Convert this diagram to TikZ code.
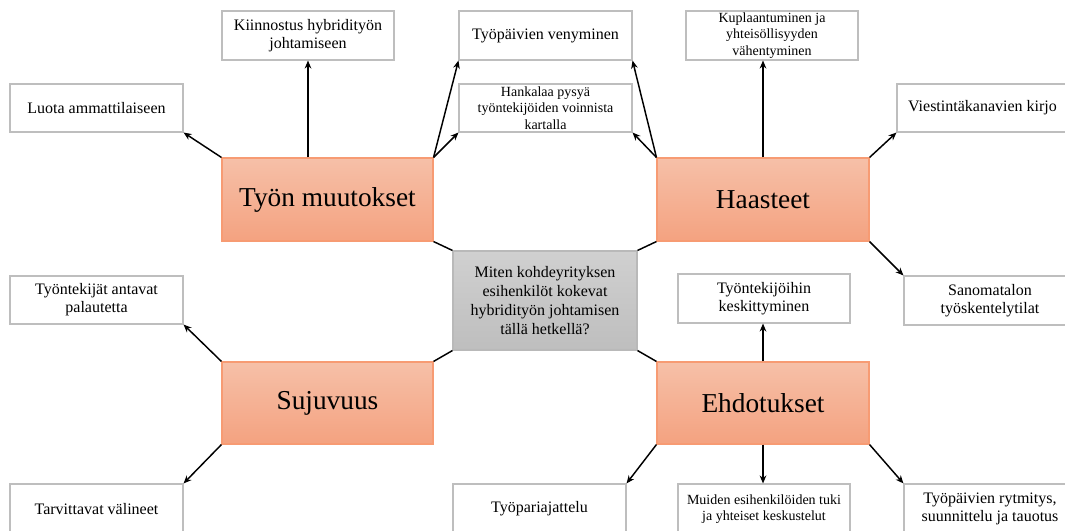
\documentclass[tikz,border=0pt]{standalone}
\usepackage{fontspec}
\setmainfont{Liberation Serif}
\usetikzlibrary{arrows.meta}
\definecolor{boxgray}{RGB}{190,190,190}
\definecolor{ortop}{RGB}{246,192,168}
\definecolor{orbot}{RGB}{244,162,128}
\definecolor{ordraw}{RGB}{247,155,115}
\definecolor{grtop}{RGB}{208,208,208}
\definecolor{grbot}{RGB}{190,190,190}
\definecolor{grdraw}{RGB}{185,185,185}
\begin{document}
\begin{tikzpicture}[x=0.75pt,y=-0.75pt,
  sz/.style 2 args={minimum width=#1*0.75pt, minimum height=#2*0.75pt},
  box/.style={draw=boxgray, line width=0.8pt, fill=white, inner sep=0pt, align=center,
    font=\fontsize{12}{13.5}\selectfont},
  smallbox/.style={box, font=\fontsize{10.5}{12.5}\selectfont},
  topic/.style={draw=ordraw, line width=0.8pt, top color=ortop, bottom color=orbot,
    inner sep=0pt, align=center, font=\fontsize{20.5}{24}\selectfont},
  centre/.style={draw=grdraw, line width=0.8pt, top color=grtop, bottom color=grbot,
    inner sep=0pt, align=center, font=\fontsize{12}{14.3}\selectfont},
  arr/.style={-{Stealth[length=6pt,width=5pt]}, line width=1.1pt},
  link/.style={line width=1.1pt}]
\useasboundingbox (0,0) rectangle (1065,531);
% topic boxes
\node[topic, sz={211}{83}] (tyon) at (327.5,199.5) {Työn muutokset};
\node[topic, sz={212}{83}] (haas) at (763,199.5) {Haasteet};
\node[topic, sz={211}{82}] (suju) at (327.5,403) {Sujuvuus};
\node[topic, sz={212}{82}] (ehd) at (763,403) {Ehdotukset};
\node[centre, sz={184}{99}] (ctr) at (545,300.5) {Miten kohdeyrityksen\\esihenkilöt kokevat\\hybridityön johtamisen\\tällä hetkellä?};
% leaf boxes
\node[box, sz={173}{48}] (luota) at (96.5,108) {Luota ammattilaiseen};
\node[box, sz={172}{49}] (kiin) at (308,35.5) {Kiinnostus hybridityön\\johtamiseen};
\node[box, sz={173}{49}] (venym) at (545.5,35.5) {Työpäivien venyminen};
\node[smallbox, sz={173}{48}] (hank) at (545.5,108) {Hankalaa pysyä\\työntekijöiden voinnista\\kartalla};
\node[smallbox, sz={172}{49}] (kupla) at (772,35.5) {Kuplaantuminen ja\\yhteisöllisyyden\\vähentyminen};
\node[box, sz={171}{48}] (viest) at (982.5,108) {Viestintäkanavien kirjo};
\node[box, sz={173}{48}] (palaute) at (96.5,300) {Työntekijät antavat\\palautetta};
\node[box, sz={172}{49}] (keskit) at (764,298.5) {Työntekijöihin\\keskittyminen};
\node[box, sz={172}{49}] (sanoma) at (990,300.5) {Sanomatalon\\työskentelytilat};
\node[box, sz={173}{50}] (tarv) at (96.5,509) {Tarvittavat välineet};
\node[box, sz={173}{50}] (tyopari) at (539.5,509) {Työpariajattelu};
\node[smallbox, sz={172}{50}] (muiden) at (764,509) {Muiden esihenkilöiden tuki\\ja yhteiset keskustelut};
\node[box, sz={172}{50}] (rytm) at (990,509) {Työpäivien rytmitys,\\suunnittelu ja tauotus};
% centre links
\draw[link] (ctr.north west) -- (tyon.south east);
\draw[link] (ctr.south west) -- (suju.north east);
\draw[link] (ctr.north east) -- (haas.south west);
\draw[link] (ctr.south east) -- (ehd.north west);
% arrows
\draw[arr] (tyon.north west) -- (luota.south east);
\draw[arr] (kiin.south |- tyon.north) -- (kiin.south);
\draw[arr] (tyon.north east) -- (venym.south west);
\draw[arr] (tyon.north east) -- (hank.south west);
\draw[arr] (haas.north west) -- (venym.south east);
\draw[arr] (haas.north west) -- (hank.south east);
\draw[arr] (haas.north) -- (haas.north |- kupla.south);
\draw[arr] (haas.north east) -- (viest.south west);
\draw[arr] (haas.south east) -- (sanoma.north west);
\draw[arr] (suju.north west) -- (palaute.south east);
\draw[arr] (suju.south west) -- (tarv.north east);
\draw[arr] (ehd.north) -- (ehd.north |- keskit.south);
\draw[arr] (ehd.south) -- (ehd.south |- muiden.north);
\draw[arr] (ehd.south west) -- (tyopari.north east);
\draw[arr] (ehd.south east) -- (rytm.north west);
\end{tikzpicture}
\end{document}
